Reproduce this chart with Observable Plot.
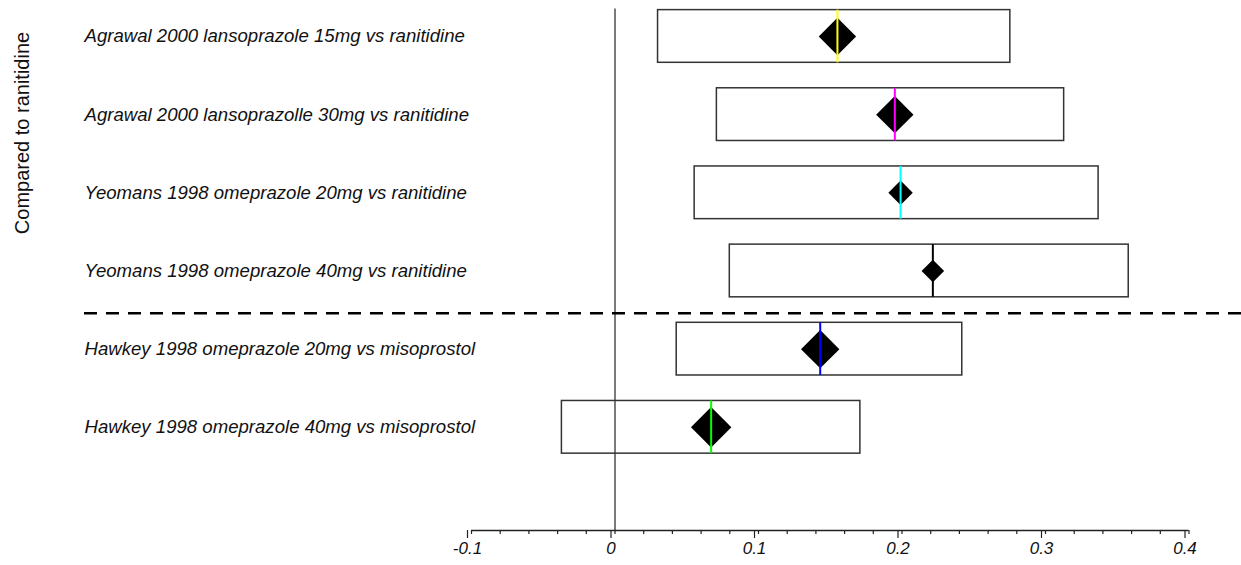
<!DOCTYPE html>
<html>
<head>
<meta charset="utf-8">
<script src="https://cdn.jsdelivr.net/npm/d3@7"></script>
<script src="https://cdn.jsdelivr.net/npm/@observablehq/plot@0.6"></script>
<style>
  html, body { margin: 0; padding: 0; background: #fff; }
  #chart svg { display: block; }
</style>
</head>
<body>
<div id="chart"></div>
<script>
// Comparisons, top to bottom
const studies = [
  "Agrawal 2000 lansoprazole 15mg vs ranitidine",
  "Agrawal 2000 lansoprazolle 30mg vs ranitidine",
  "Yeomans 1998 omeprazole 20mg vs ranitidine",
  "Yeomans 1998 omeprazole 40mg vs ranitidine",
  "Hawkey 1998 omeprazole 20mg vs misoprostol",
  "Hawkey 1998 omeprazole 40mg vs misoprostol"
];
// Risk difference point estimates and confidence limits
const estimates = [0.155, 0.195, 0.199, 0.2215, 0.143, 0.067];
const lowerCI   = [0.030, 0.071, 0.0555, 0.080, 0.043, -0.037];
const upperCI   = [0.2755, 0.313, 0.337, 0.358, 0.242, 0.171];
// Study weights (%), shown by the diamond size
const weights   = [19.9, 19.9, 8.5, 7.3, 21.0, 23.3];
// Marker line colour for each comparison
const markerColors = ["#ffff00", "#ff00ff", "#00ffff", "#000000", "#0000ff", "#00ff00"];
// Number of comparisons in the first group (vs ranitidine)
const firstGroupSize = 4;
const groupTitle = "Compared to ranitidine";
const xTicks = [-0.1, 0, 0.1, 0.2, 0.3, 0.4];

const rows = studies.map((study, i) => ({
  study,
  row: i + 1,
  est: estimates[i],
  lo: lowerCI[i],
  hi: upperCI[i],
  w: weights[i]
}));

const half = 0.337;          // half height of each interval box, in row units
const yTop = 0.54, yBottom = 7.32;
const minorTicks = d3.ticks(-0.1, 0.4, 25);
const font = "'Liberation Sans', Arial, Helvetica, sans-serif";

const chart = Plot.plot({
  width: 1241,
  height: 565,
  marginLeft: 471,
  marginRight: 52.5,
  marginTop: 0,
  marginBottom: 35,
  style: { fontFamily: font, background: "#fff", color: "#000" },
  x: { domain: [-0.1, 0.4], axis: null },
  y: { domain: [yTop, yBottom], reverse: true, axis: null },
  r: { type: "sqrt", domain: [0, d3.max(weights)], range: [0, 18.2] },
  color: { domain: studies, range: markerColors },
  marks: [
    // confidence interval boxes
    Plot.rect(rows, {
      x1: "lo", x2: "hi",
      y1: d => d.row - half, y2: d => d.row + half,
      fill: "white", stroke: "#333", strokeWidth: 1.5
    }),
    // line of no effect
    Plot.ruleX([0], { y1: 1 - half - 0.013, y2: yBottom, stroke: "#333", strokeWidth: 1.3 }),
    // point estimates
    Plot.dot(rows, {
      x: "est", y: "row", r: "w", symbol: "diamond2",
      fill: "black", stroke: "none"
    }),
    Plot.ruleX(rows, {
      x: "est", y1: d => d.row - half, y2: d => d.row + half,
      stroke: "study", strokeWidth: 2
    }),
    // separator between the two comparison groups
    Plot.ruleY([firstGroupSize + 0.54], {
      x1: -0.3697, x2: 0.45,
      stroke: "black", strokeWidth: 2.6, strokeDasharray: "13,9"
    }),
    // study labels
    Plot.text(rows, {
      y: "row", text: "study",
      frameAnchor: "left", dx: -387, textAnchor: "start",
      fontSize: 18.6, fontStyle: "italic", fill: "#111"
    }),
    // group title
    Plot.text([groupTitle], {
      frameAnchor: "top-left", dx: -457, dy: 132.5,
      rotate: -90, textAnchor: "middle", fontSize: 20, fill: "#111"
    }),
    // x axis
    Plot.ruleY([yBottom], { x1: -0.1, x2: 0.4, stroke: "#222", strokeWidth: 1.3 }),
    Plot.axisX(minorTicks, { tickSize: 4, tickFormat: () => "", stroke: "#222", strokeWidth: 1.2 }),
    Plot.axisX(xTicks, {
      tickSize: 8, tickPadding: 3, stroke: "#222", strokeWidth: 1.2,
      tickFormat: d => (d === 0 ? "0" : String(d)),
      fontSize: 17, fontStyle: "italic", fill: "#111", dx: -4
    })
  ]
});

document.getElementById("chart").append(chart);
</script>
</body>
</html>
